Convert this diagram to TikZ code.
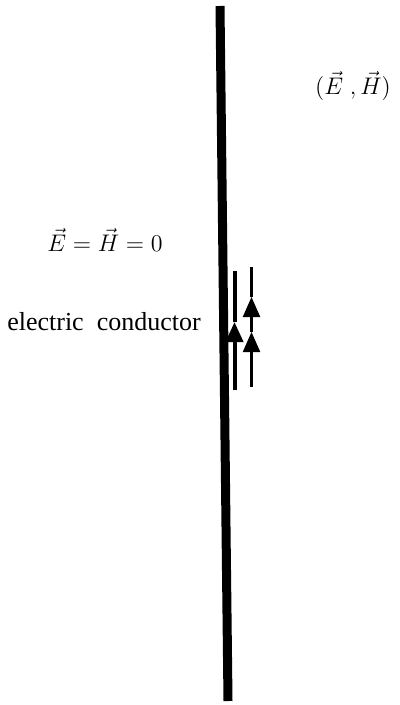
\documentclass[tikz,border=0pt]{standalone}
\usepackage{amsmath}
\usepackage{fontspec}
\setmainfont{Liberation Serif}
\usetikzlibrary{arrows.meta}

\begin{document}
\begin{tikzpicture}[
    x=0.5pt, y=-0.5pt,
    lbl/.style={font=\fontsize{13}{15}\selectfont, inner sep=0pt},
    wall/.style={line width=4.5pt},
    current/.style={-{Triangle[length=10pt, width=8.5pt]}},
    thickcur/.style={line width=2pt},
    thincur/.style={line width=1.1pt}
]
\useasboundingbox (0,0) rectangle (400,705);

% conductor surface
\coordinate (walltop) at (220,6);
\coordinate (wallbot) at (228,701);
\draw[wall] (walltop) -- (wallbot);

% labels
\node[lbl] (fields) at (353,86) {$(\vec{E}\;,\vec{H})$};
\node[lbl] (zero) at (105,240) {$\vec{E}=\vec{H}=0$};
\node[lbl] (cond) at (104,322) {electric\ \ conductor};

% surface currents
\coordinate (cura) at (234.5,390);
\coordinate (curatip) at (234.5,322);
\coordinate (curaend) at (234.5,271);
\draw[thickcur, current] (cura) -- (curatip);
\draw[thickcur] (curatip) -- (curaend);

\coordinate (curb) at (251.5,387);
\coordinate (curbtip) at (251.5,332);
\coordinate (curbtop) at (251.5,297);
\coordinate (curbend) at (251.5,267);
\draw[thincur, current] (curb) -- (curbtip);
\draw[thincur, current] (curbtip) -- (curbtop);
\draw[thincur] (curbtop) -- (curbend);
\end{tikzpicture}
\end{document}
